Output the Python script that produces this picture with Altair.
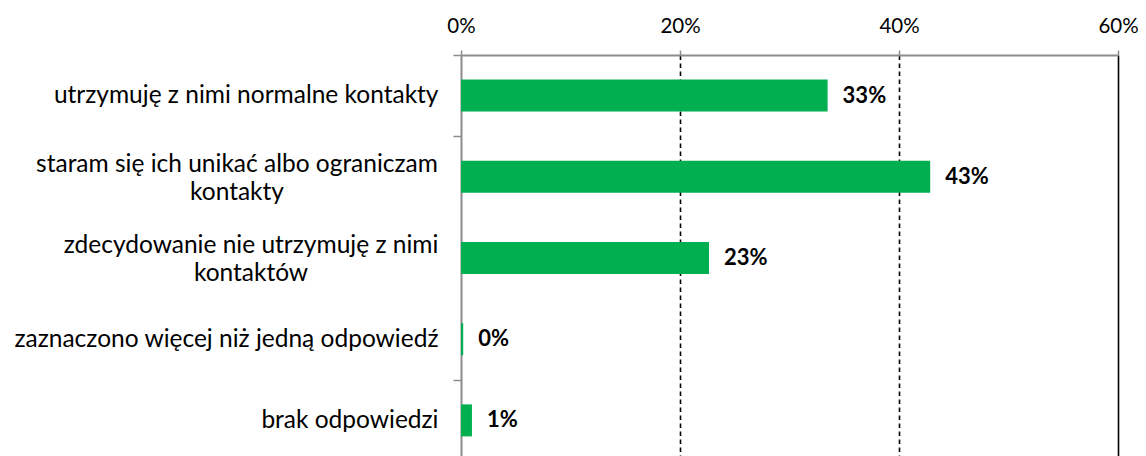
import altair as alt
import pandas as pd

# Data
categories = [
    "utrzymuję z nimi normalne kontakty",
    "staram się ich unikać albo ograniczam|kontakty",
    "zdecydowanie nie utrzymuję z nimi|kontaktów",
    "zaznaczono więcej niż jedną odpowiedź",
    "brak odpowiedzi",
]
values = [0.3348, 0.4285, 0.2265, 0.002, 0.010]
x_ticks = [0.0, 0.2, 0.4, 0.6]

single_line = [c for c in categories if "|" not in c]
two_line = [c for c in categories if "|" in c]

df = pd.DataFrame({"category": categories, "value": values})

FONT = "Lato"
GREY = "#8c8c8c"
Y_SCALE = alt.Scale(paddingInner=0, paddingOuter=0)
LABEL_STYLE = dict(
    labelExpr="split(datum.label, '|')",
    labelFont=FONT,
    labelFontSize=24.5,
    labelColor="#000000",
    labelLimit=0,
    labelLineHeight=28,
    grid=False,
    title=None,
    orient="left",
)

# main y axis: line, band-edge ticks, one-line labels (right aligned)
y_main = alt.Y(
    "category:N",
    sort=categories,
    scale=Y_SCALE,
    axis=alt.Axis(
        values=single_line,
        labelAlign="right",
        labelPadding=15,
        domainColor=GREY,
        domainWidth=2,
        tickColor=GREY,
        tickWidth=1.5,
        tickSize=8,
        tickBand="extent",
        **LABEL_STYLE,
    ),
)


def centred_axis(cat, padding):
    # two-line labels are centred line by line, as in the original
    return alt.Y(
        "category:N",
        sort=categories,
        scale=Y_SCALE,
        axis=alt.Axis(
            values=[cat],
            labelAlign="center",
            labelPadding=padding,
            labelOffset=-12,
            domain=False,
            ticks=False,
            tickSize=0,
            **LABEL_STYLE,
        ),
    )


x_enc = alt.X(
    "value:Q",
    scale=alt.Scale(domain=[0, 0.6], nice=False),
    axis=alt.Axis(
        title=None,
        orient="top",
        values=x_ticks,
        format=".0%",
        labelFont=FONT,
        labelFontSize=20.5,
        labelColor="#000000",
        labelPadding=14,
        labelFlush=False,
        domainColor=GREY,
        domainWidth=2,
        tickColor=GREY,
        tickWidth=1.5,
        tickSize=5,
        grid=True,
        gridColor="#000000",
        gridWidth=1.6,
        gridDash={"condition": {"test": "datum.value >= 0.6", "value": []}, "value": [4.5, 3.5]},
        gridOpacity={"condition": {"test": "datum.value == 0", "value": 0}, "value": 1},
    ),
)

base = alt.Chart(df)

bars = base.mark_bar(size=32, color="#00B050").encode(x=x_enc, y=y_main)

value_labels = base.mark_text(
    align="left",
    baseline="middle",
    dx=15,
    font=FONT,
    fontSize=22,
    fontWeight="bold",
    color="#000000",
).encode(
    x=alt.X("value:Q"),
    y=centred_axis(two_line[0], 224.5),
    text=alt.Text("value:Q", format=".0%"),
)

ghost = base.mark_bar(size=32, opacity=0).encode(
    x=alt.X("value:Q"),
    y=centred_axis(two_line[1], 210.5),
)

chart = (
    alt.layer(bars, value_labels, ghost)
    .resolve_axis(y="independent")
    .properties(
        width=657,
        height=406,
        autosize=alt.AutoSizeParams(type="none"),
        padding={"left": 453, "top": 47, "right": 20, "bottom": 0},
    )
    .configure_view(stroke=None)
    .configure(background="#ffffff")
)

chart.save("out.html", embed_options={"renderer": "svg", "actions": False})
